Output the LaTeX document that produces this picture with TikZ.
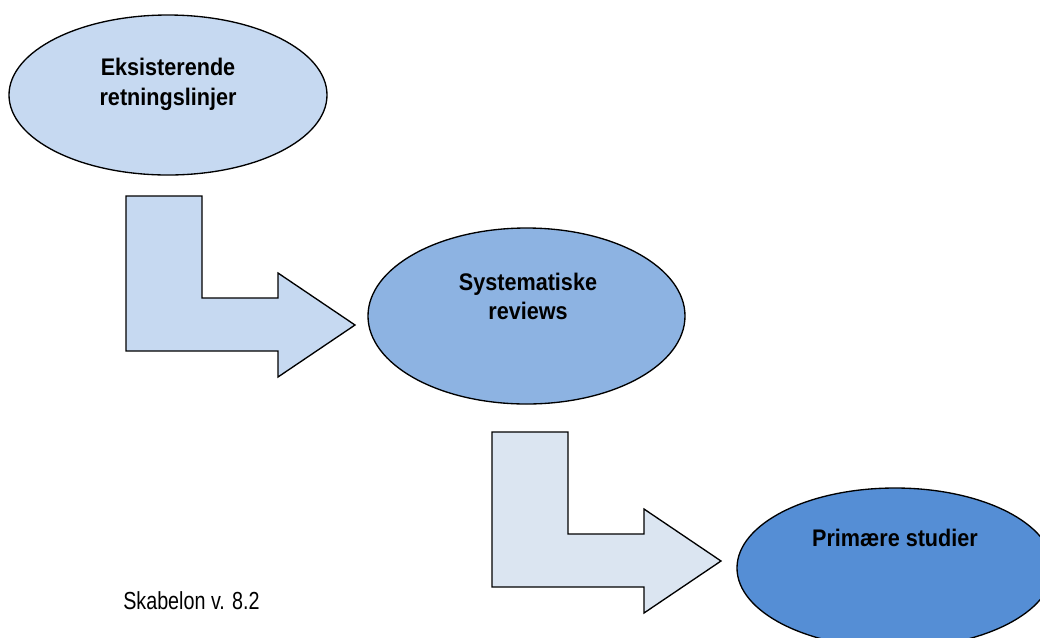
\documentclass[tikz,border=0pt]{standalone}
\usepackage{fontspec}
\setmainfont{Liberation Sans}
\newfontfamily\bubblefont[FakeStretch=0.9]{Liberation Sans Bold}
\newfontfamily\notefont[FakeStretch=0.8]{Liberation Sans}
\usepackage{xcolor}
\usetikzlibrary{shapes.geometric,calc}

\definecolor{paleblue}{HTML}{C6D9F1}
\definecolor{midblue}{HTML}{8DB3E2}
\definecolor{deepblue}{HTML}{558ED5}
\definecolor{faintblue}{HTML}{DBE5F1}

\tikzset{
  pics/bent arrow/.style={code={
    \draw[line width=1pt,fill=#1] (0,0) -- (76,0) -- (76,102) -- (152,102) -- (152,77)
      -- (229,129) -- (152,181) -- (152,155) -- (0,155) -- cycle;
  }}
}

\begin{document}
\begin{tikzpicture}[x=0.75pt,y=-0.75pt,
    bubble/.style={ellipse,draw,line width=1pt,inner sep=0pt},
    lbl/.style={font=\bubblefont\fontsize{18}{22}\selectfont,anchor=base}]

  \useasboundingbox (0,0) rectangle (1040,637);
  \clip (0,0) rectangle (1040,637);

  % ellipses
  \node[bubble,fill=paleblue,minimum width=238.5pt,minimum height=120pt] (guide) at (168,95) {};
  \node[bubble,fill=midblue,minimum width=237.75pt,minimum height=132pt] (review) at (526.5,316) {};
  \node[bubble,fill=deepblue,minimum width=237pt,minimum height=120pt] (primary) at (895,568) {};

  % bent arrows
  \pic at (126,196) {bent arrow=paleblue};
  \pic at (492,432) {bent arrow=faintblue};

  % labels
  \node[lbl] (guide1) at (168,75) {Eksisterende};
  \node[lbl] (guide2) at (168,105) {retningslinjer};
  \node[lbl] (review1) at (528,290) {Systematiske};
  \node[lbl] (review2) at (528,319) {reviews};
  \node[lbl] (primary1) at (895,546) {Primære studier};

  \node[font=\notefont\fontsize{18.5}{22}\selectfont,anchor=base west,inner sep=0pt] (version) at (123,609) {Skabelon v. 8.2};
\end{tikzpicture}
\end{document}
